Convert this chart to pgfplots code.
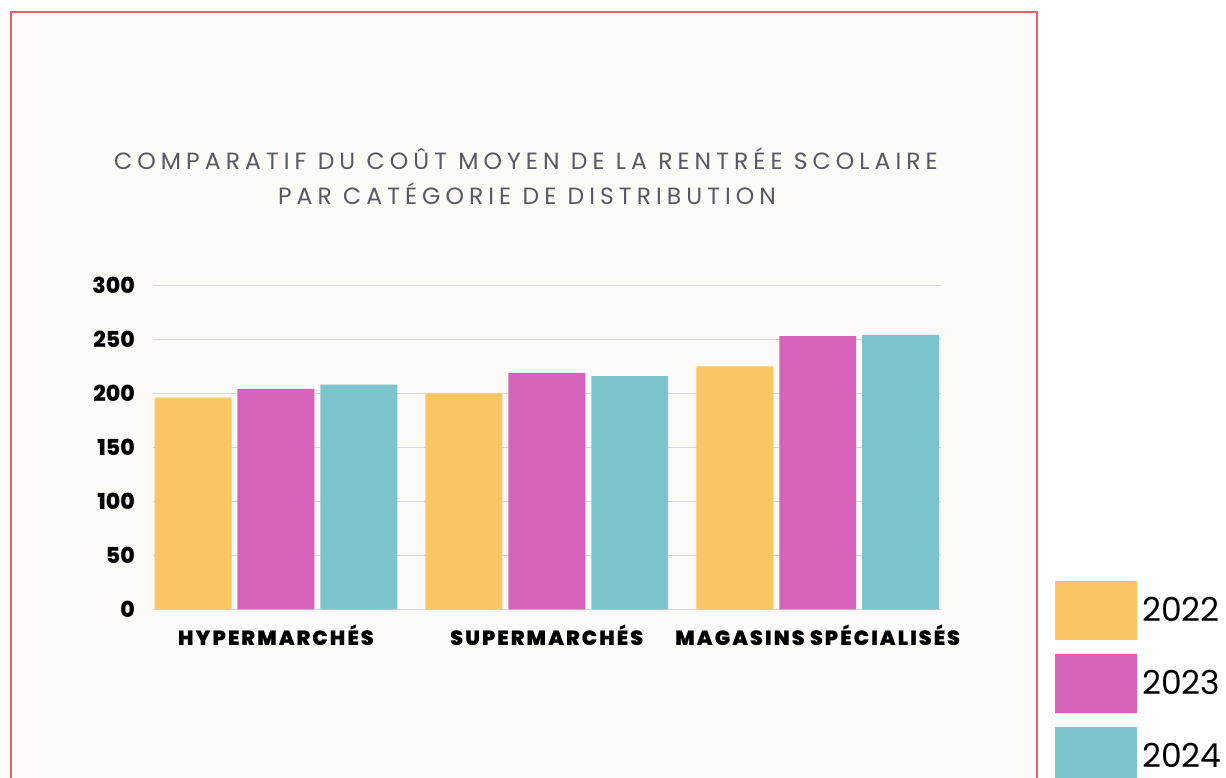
\documentclass[border=0pt]{standalone}
\usepackage{fontspec}
\setmainfont{Poppins}[BoldFont=* Bold]
\newfontfamily\titlefont{Poppins}[LetterSpace=21.5]
\IfFontExistsTF{Poppins Black}{\newfontfamily\blackfont{Poppins Black}[LetterSpace=10]}{\newfontfamily\blackfont{Poppins}[UprightFont=* Bold, LetterSpace=14]}
\IfFontExistsTF{Poppins ExtraBold}{\newfontfamily\tickfont{Poppins ExtraBold}}{\newfontfamily\tickfont{Poppins}[UprightFont=* Bold]}
\usepackage{pgfplots}
\pgfplotsset{compat=1.18}
\definecolor{bgc}{RGB}{254,250,247}
\definecolor{bordc}{RGB}{232,96,106}
\definecolor{cA}{RGB}{252,197,99}
\definecolor{cB}{RGB}{214,99,186}
\definecolor{cC}{RGB}{123,196,204}
\definecolor{gridc}{RGB}{214,214,222}
\definecolor{titc}{RGB}{88,88,98}
\begin{document}
\begin{tikzpicture}
\useasboundingbox (0,0) rectangle (1226pt,778pt);
\clip (0,0) rectangle (1226pt,778pt);
\fill[white] (0,0) rectangle (1226pt,778pt);
\fill[bgc] (11pt,-5pt) rectangle (1037pt,766pt);
\draw[bordc, line width=1.5pt] (11pt,-5pt) -- (11pt,766pt) -- (1037pt,766pt) -- (1037pt,-5pt);
\node[anchor=base, text=titc, font=\titlefont\fontsize{23.5}{26}\selectfont, inner sep=0pt] at (526pt,608.7pt) {COMPARATIF DU COÛT MOYEN DE LA RENTRÉE SCOLAIRE};
\node[anchor=base, text=titc, font=\titlefont\fontsize{23.5}{26}\selectfont, inner sep=0pt] at (527pt,573pt) {PAR CATÉGORIE DE DISTRIBUTION};
\begin{axis}[
  at={(152.7pt,168.7pt)}, anchor=south west,
  width=788.3pt, height=324pt, scale only axis,
  xmin=-0.455, xmax=2.455, ymin=0, ymax=300,
  ybar,
  axis line style={draw=none}, tick style={draw=none},
  major tick length=0pt,
  ymajorgrids, grid style={gridc, line width=1pt},
  ytick={0,50,100,150,200,250,300},
  xtick={0,1,2},
  xticklabels={HYPERMARCHÉS,SUPERMARCHÉS,MAGASINS SPÉCIALISÉS},
  yticklabel style={font=\tickfont\fontsize{22}{26}\selectfont, inner sep=0pt, xshift=-17.7pt, text=black},
  xticklabel style={font=\blackfont\fontsize{20.5}{24}\selectfont, inner sep=0pt, anchor=base, yshift=-36.4pt, text=black},
  /pgf/number format/assume math mode=true,
  legend image code/.code={\fill[#1] (0pt,-29.3pt) rectangle (82pt,29.3pt);},
  legend style={at={(axis description cs:1.14463,0.08735)}, anchor=north west, draw=none, fill=none, inner sep=0pt, row sep=14.3pt, column sep=5pt, font=\fontsize{33}{36}\selectfont, nodes={inner sep=0pt}},
  legend cell align=left,
]
\addplot[fill=cA, draw=none, bar width=0.284, bar shift=-0.306] coordinates {(0,196) (1,200) (2,225)};
\addplot[fill=cB, draw=none, bar width=0.284, bar shift=0] coordinates {(0,204) (1,219) (2,253)};
\addplot[fill=cC, draw=none, bar width=0.284, bar shift=0.306] coordinates {(0,208) (1,216) (2,254)};
\legend{2022,2023,2024}
\end{axis}
\end{tikzpicture}
\end{document}
